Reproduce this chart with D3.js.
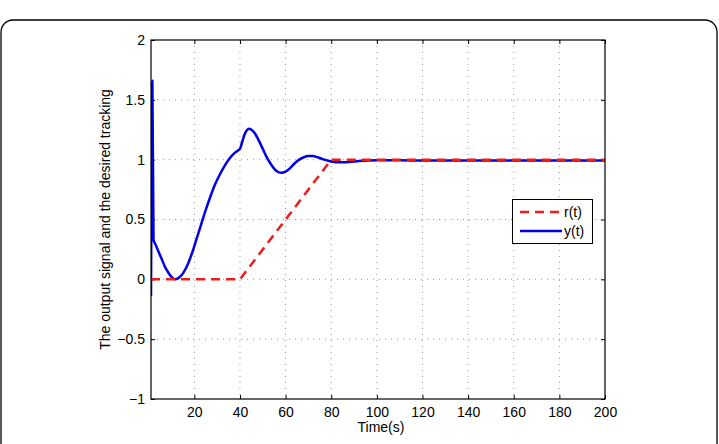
<!DOCTYPE html>
<html><head><meta charset="utf-8">
<script src="https://cdn.jsdelivr.net/npm/d3@7"></script>
<style>body{margin:0;background:#fff}svg{display:block}text{font-family:"Liberation Sans",Arial,Helvetica,sans-serif}</style>
</head><body>
<script>
// Data
const tY = [1,1.6,2.1,3,4,5,6,7,8,9,10,11.5,13,15,17,19,21,23,25,27,29,31,33,35,37,39,40,41,42,43,44,45,46.5,48,50,52,54,56,58,60,62,64,66,68,70,72,74,77,80,84,88,92,100,110,120,140,160,180,200];
const yVals = [-0.14,1.66,0.33,0.29,0.245,0.2,0.155,0.11,0.075,0.045,0.02,0.0,0.01,0.05,0.12,0.22,0.34,0.46,0.58,0.69,0.79,0.87,0.94,1.0,1.045,1.075,1.09,1.15,1.21,1.245,1.258,1.25,1.22,1.17,1.09,1.01,0.95,0.905,0.89,0.9,0.93,0.97,1.0,1.02,1.03,1.03,1.02,1.0,0.985,0.978,0.98,0.988,0.995,0.995,0.993,0.993,0.993,0.993,0.993];
const tR = [1,40,80,200];
const rVals = [0,0,1,1];
const xTicks = [20,40,60,80,100,120,140,160,180,200];
const yTicks = [-1,-0.5,0,0.5,1,1.5,2];
const yTickLabels = ["\u22121","\u22120.5","0","0.5","1","1.5","2"];
const legendLabels = ["r(t)","y(t)"];

const W=719,H=444;
const m={l:151,r:605,t:40,b:399};
const svg=d3.select("body").append("svg").attr("width",W).attr("height",H);
svg.append("rect").attr("x",1).attr("y",20).attr("width",716).attr("height",440).attr("rx",12)
  .attr("fill","none").attr("stroke","#000").attr("stroke-width",1.3);

const x=d3.scaleLinear().domain([1,200]).range([m.l,m.r]);
const y=d3.scaleLinear().domain([-1,2]).range([m.b,m.t]);

// grid
const g=svg.append("g");
g.selectAll(".gx").data(xTicks.slice(0,-1)).join("line")
 .attr("x1",d=>x(d)).attr("x2",d=>x(d)).attr("y1",m.t).attr("y2",m.b)
 .attr("stroke","#999").attr("stroke-width",1).attr("stroke-dasharray","1,5");
g.selectAll(".gy").data(yTicks.slice(1,-1)).join("line")
 .attr("y1",d=>y(d)).attr("y2",d=>y(d)).attr("x1",m.l).attr("x2",m.r)
 .attr("stroke","#999").attr("stroke-width",1).attr("stroke-dasharray","1,5");

// axes with inward ticks
const axB=d3.axisBottom(x).tickValues(xTicks).tickSize(-4).tickPadding(8).tickFormat(d3.format("d"));
const axL=d3.axisLeft(y).tickValues(yTicks).tickSize(-4).tickPadding(6).tickFormat((d,i)=>yTickLabels[i]);
svg.append("g").attr("transform",`translate(0,${m.b})`).call(axB);
svg.append("g").attr("transform",`translate(${m.l},0)`).call(axL);
svg.append("g").attr("transform",`translate(0,${m.t})`).call(d3.axisTop(x).tickValues(xTicks).tickSize(-4).tickFormat(""));
svg.append("g").attr("transform",`translate(${m.r},0)`).call(d3.axisRight(y).tickValues(yTicks).tickSize(-4).tickFormat(""));
svg.selectAll(".domain").remove();
svg.selectAll(".tick line").attr("stroke","#000");
svg.selectAll(".tick text").attr("font-size",14).attr("fill","#000").style("font-family",'"Liberation Sans",Arial,sans-serif');

// lines
svg.append("clipPath").attr("id","c").append("rect").attr("x",m.l).attr("y",m.t).attr("width",m.r-m.l).attr("height",m.b-m.t);
const lineY=d3.line().x((d,i)=>x(tY[i])).y(d=>y(d)).curve(d3.curveMonotoneX);
const lineR=d3.line().x((d,i)=>x(tR[i])).y(d=>y(d));
const plot=svg.append("g").attr("clip-path","url(#c)");
plot.append("path").attr("d",lineY(yVals)).attr("fill","none").attr("stroke","#0000e6").attr("stroke-width",2.5).attr("stroke-linejoin","round");
plot.append("path").attr("d",lineR(rVals)).attr("fill","none").attr("stroke","#ee1c1c").attr("stroke-width",2.5).attr("stroke-dasharray","9,6");

// box
svg.append("rect").attr("x",m.l).attr("y",m.t).attr("width",m.r-m.l).attr("height",m.b-m.t).attr("fill","none").attr("stroke","#000").attr("stroke-width",1.2);

// labels
svg.append("text").attr("x",(m.l+m.r)/2+3).attr("y",432).attr("text-anchor","middle").attr("font-size",14).text("Time(s)");
svg.append("text").attr("transform",`translate(110,${(m.t+m.b)/2}) rotate(-90)`).attr("text-anchor","middle").attr("font-size",14).text("The output signal and the desired tracking");

// legend
const lg=svg.append("g");
lg.append("rect").attr("x",512.5).attr("y",199.5).attr("width",80).attr("height",44).attr("fill","#fff").attr("stroke","#000").attr("stroke-width",1);
const cols=["#ee1c1c","#0000e6"], dashes=["9,6",null], ly=[212,231];
legendLabels.forEach((lab,i)=>{
  lg.append("line").attr("x1",520).attr("x2",562).attr("y1",ly[i]).attr("y2",ly[i]).attr("stroke",cols[i]).attr("stroke-width",2.5).attr("stroke-dasharray",dashes[i]);
  lg.append("text").attr("x",564).attr("y",ly[i]+5).attr("font-size",14).text(lab);
});
</script>
</body></html>
